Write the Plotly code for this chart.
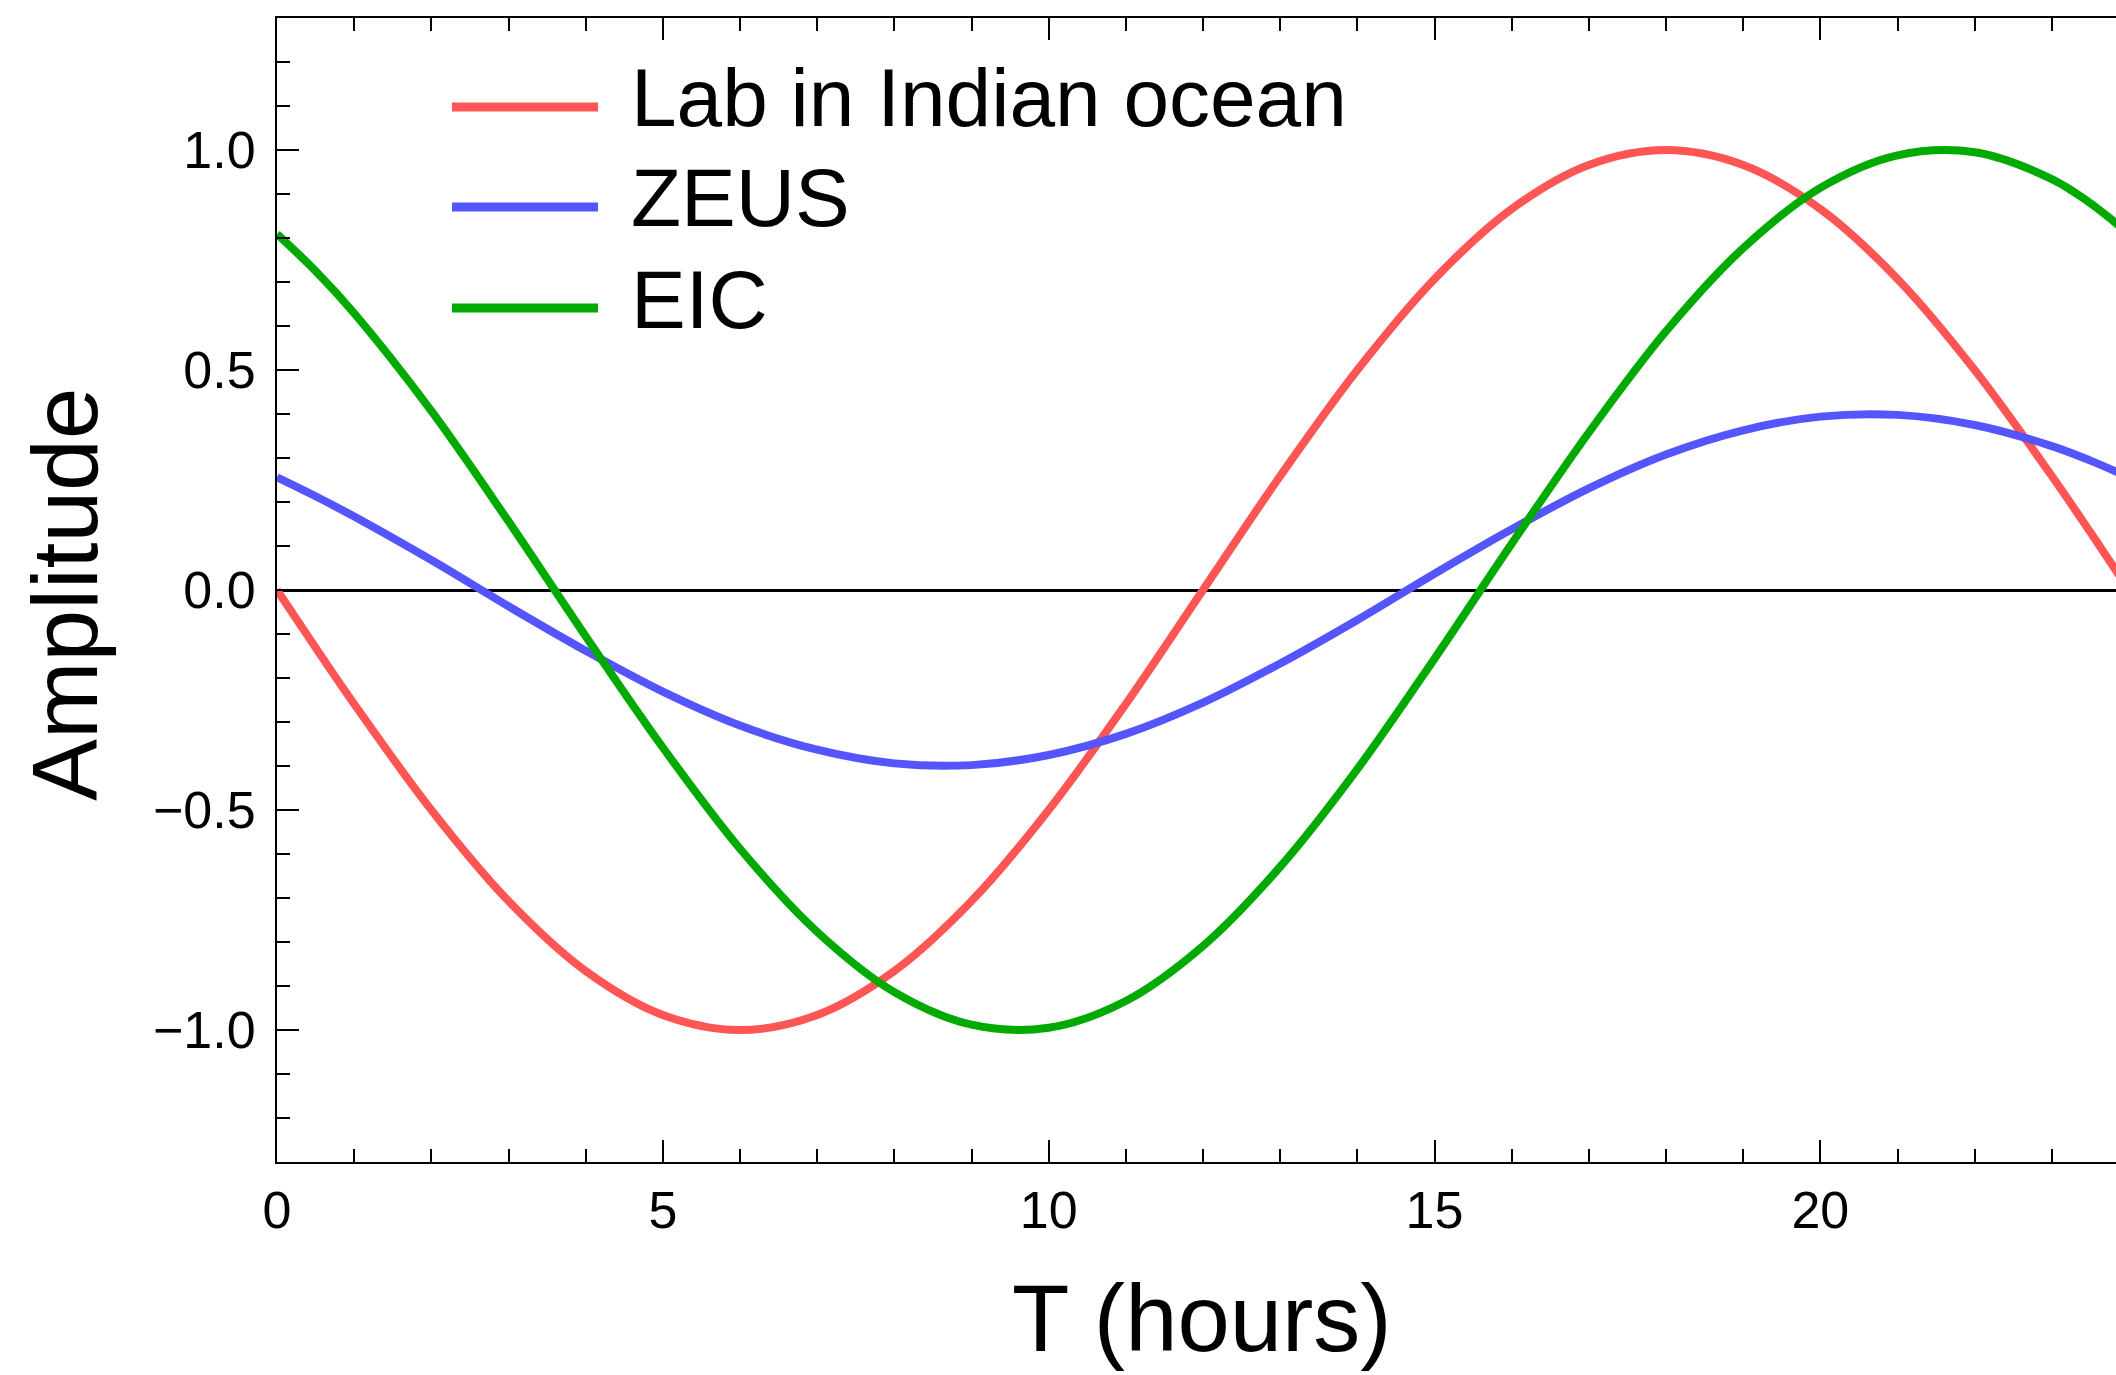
import plotly.graph_objects as go

# ---- data (samples in hours) ----
hours = [0, 0.5, 1, 2, 3, 4, 5, 6, 7, 8, 9, 10, 11, 12, 13, 14, 15, 16, 17, 18, 19, 20, 21, 22, 23, 23.5, 24]
lab_indian_ocean = [0.0, -0.131, -0.259, -0.5, -0.707, -0.866, -0.966, -1.0, -0.966, -0.866, -0.707, -0.5, -0.259,
                    0.0, 0.259, 0.5, 0.707, 0.866, 0.966, 1.0, 0.966, 0.866, 0.707, 0.5, 0.259, 0.131, 0.0]
zeus = [0.256, 0.213, 0.167, 0.068, -0.037, -0.138, -0.231, -0.308, -0.363, -0.394, -0.398, -0.375, -0.327,
        -0.256, -0.167, -0.068, 0.037, 0.138, 0.231, 0.308, 0.363, 0.394, 0.398, 0.375, 0.327, 0.294, 0.256]
eic = [0.809, 0.725, 0.629, 0.407, 0.156, -0.105, -0.358, -0.588, -0.777, -0.914, -0.988, -0.995, -0.934,
       -0.809, -0.629, -0.407, -0.156, 0.105, 0.358, 0.588, 0.777, 0.914, 0.988, 0.995, 0.934, 0.879, 0.809]

series_names = ["Lab in Indian ocean", "ZEUS", "EIC"]
series_values = [lab_indian_ocean, zeus, eic]
series_colors = ["rgb(255,85,85)", "rgb(85,85,255)", "rgb(0,170,0)"]

y_tick_vals = [-1.0, -0.5, 0.0, 0.5, 1.0]
y_tick_text = ["\u22121.0", "\u22120.5", "0.0", "0.5", "1.0"]
x_tick_vals = [0, 5, 10, 15, 20]

W, H = 2116, 1375
ML, MR, MT, MB = 277, 0, 18, 213
PW, PH = W - ML - MR, H - MT - MB
FONT = "Liberation Sans, Arial, Helvetica, sans-serif"


def px_x(p):
    return (p - ML) / PW


def px_y(p):
    return (H - MB - p) / PH


fig = go.Figure()
for name, vals, col in zip(series_names, series_values, series_colors):
    fig.add_trace(go.Scatter(x=hours, y=vals, mode="lines", name=name,
                             line=dict(color=col, width=8, shape="spline", smoothing=1),
                             showlegend=False))

# manual legend (long line samples)
leg_line_y = [107, 207, 308]
shapes = []
annotations = []
for name, col, ly in zip(series_names, series_colors, leg_line_y):
    shapes.append(dict(type="line", xref="paper", yref="paper",
                       x0=px_x(452), x1=px_x(598), y0=px_y(ly), y1=px_y(ly),
                       line=dict(color=col, width=9)))
    annotations.append(dict(text=name, xref="paper", yref="paper", x=px_x(629), y=px_y(ly - 9),
                            xanchor="left", yanchor="middle", showarrow=False,
                            font=dict(family=FONT, size=82, color="black")))

annotations.append(dict(text="T (hours)", xref="paper", yref="paper", x=px_x(1202), y=px_y(1264),
                        xanchor="center", yanchor="top", showarrow=False,
                        font=dict(family=FONT, size=94, color="black")))
annotations.append(dict(text="Amplitude", xref="paper", yref="paper", x=px_x(65), y=px_y(594),
                        xanchor="center", yanchor="middle", showarrow=False, textangle=-90,
                        font=dict(family=FONT, size=93, color="black")))

fig.update_layout(
    width=W, height=H,
    margin=dict(l=ML, r=MR, t=MT, b=MB, pad=0),
    paper_bgcolor="white", plot_bgcolor="white",
    font=dict(family=FONT, color="black"),
    shapes=shapes, annotations=annotations,
    showlegend=False,
)

fig.update_xaxes(range=[0, 24 * PW / (2129 - ML)], showgrid=False, zeroline=False,
                 showline=True, linecolor="black", linewidth=2, mirror="ticks",
                 ticks="inside", ticklen=22, tickwidth=2, tickcolor="black",
                 tickvals=x_tick_vals, ticktext=[str(v) for v in x_tick_vals],
                 tickfont=dict(family=FONT, size=52, color="black"), ticklabelstandoff=2,
                 minor=dict(dtick=1, tick0=0, ticks="inside", ticklen=13, tickwidth=1.5,
                            tickcolor="black", showgrid=False))
fig.update_yaxes(range=[-1.3, 1.3], showgrid=False, zeroline=True, zerolinecolor="black",
                 zerolinewidth=3, showline=True, linecolor="black", linewidth=2,
                 ticks="inside", ticklen=22, tickwidth=2, tickcolor="black",
                 tickvals=y_tick_vals, ticktext=y_tick_text,
                 tickfont=dict(family=FONT, size=52, color="black"), ticklabelstandoff=9,
                 minor=dict(dtick=0.1, tick0=0, ticks="inside", ticklen=13, tickwidth=1.5,
                            tickcolor="black", showgrid=False))

fig.write_html("out.html")
